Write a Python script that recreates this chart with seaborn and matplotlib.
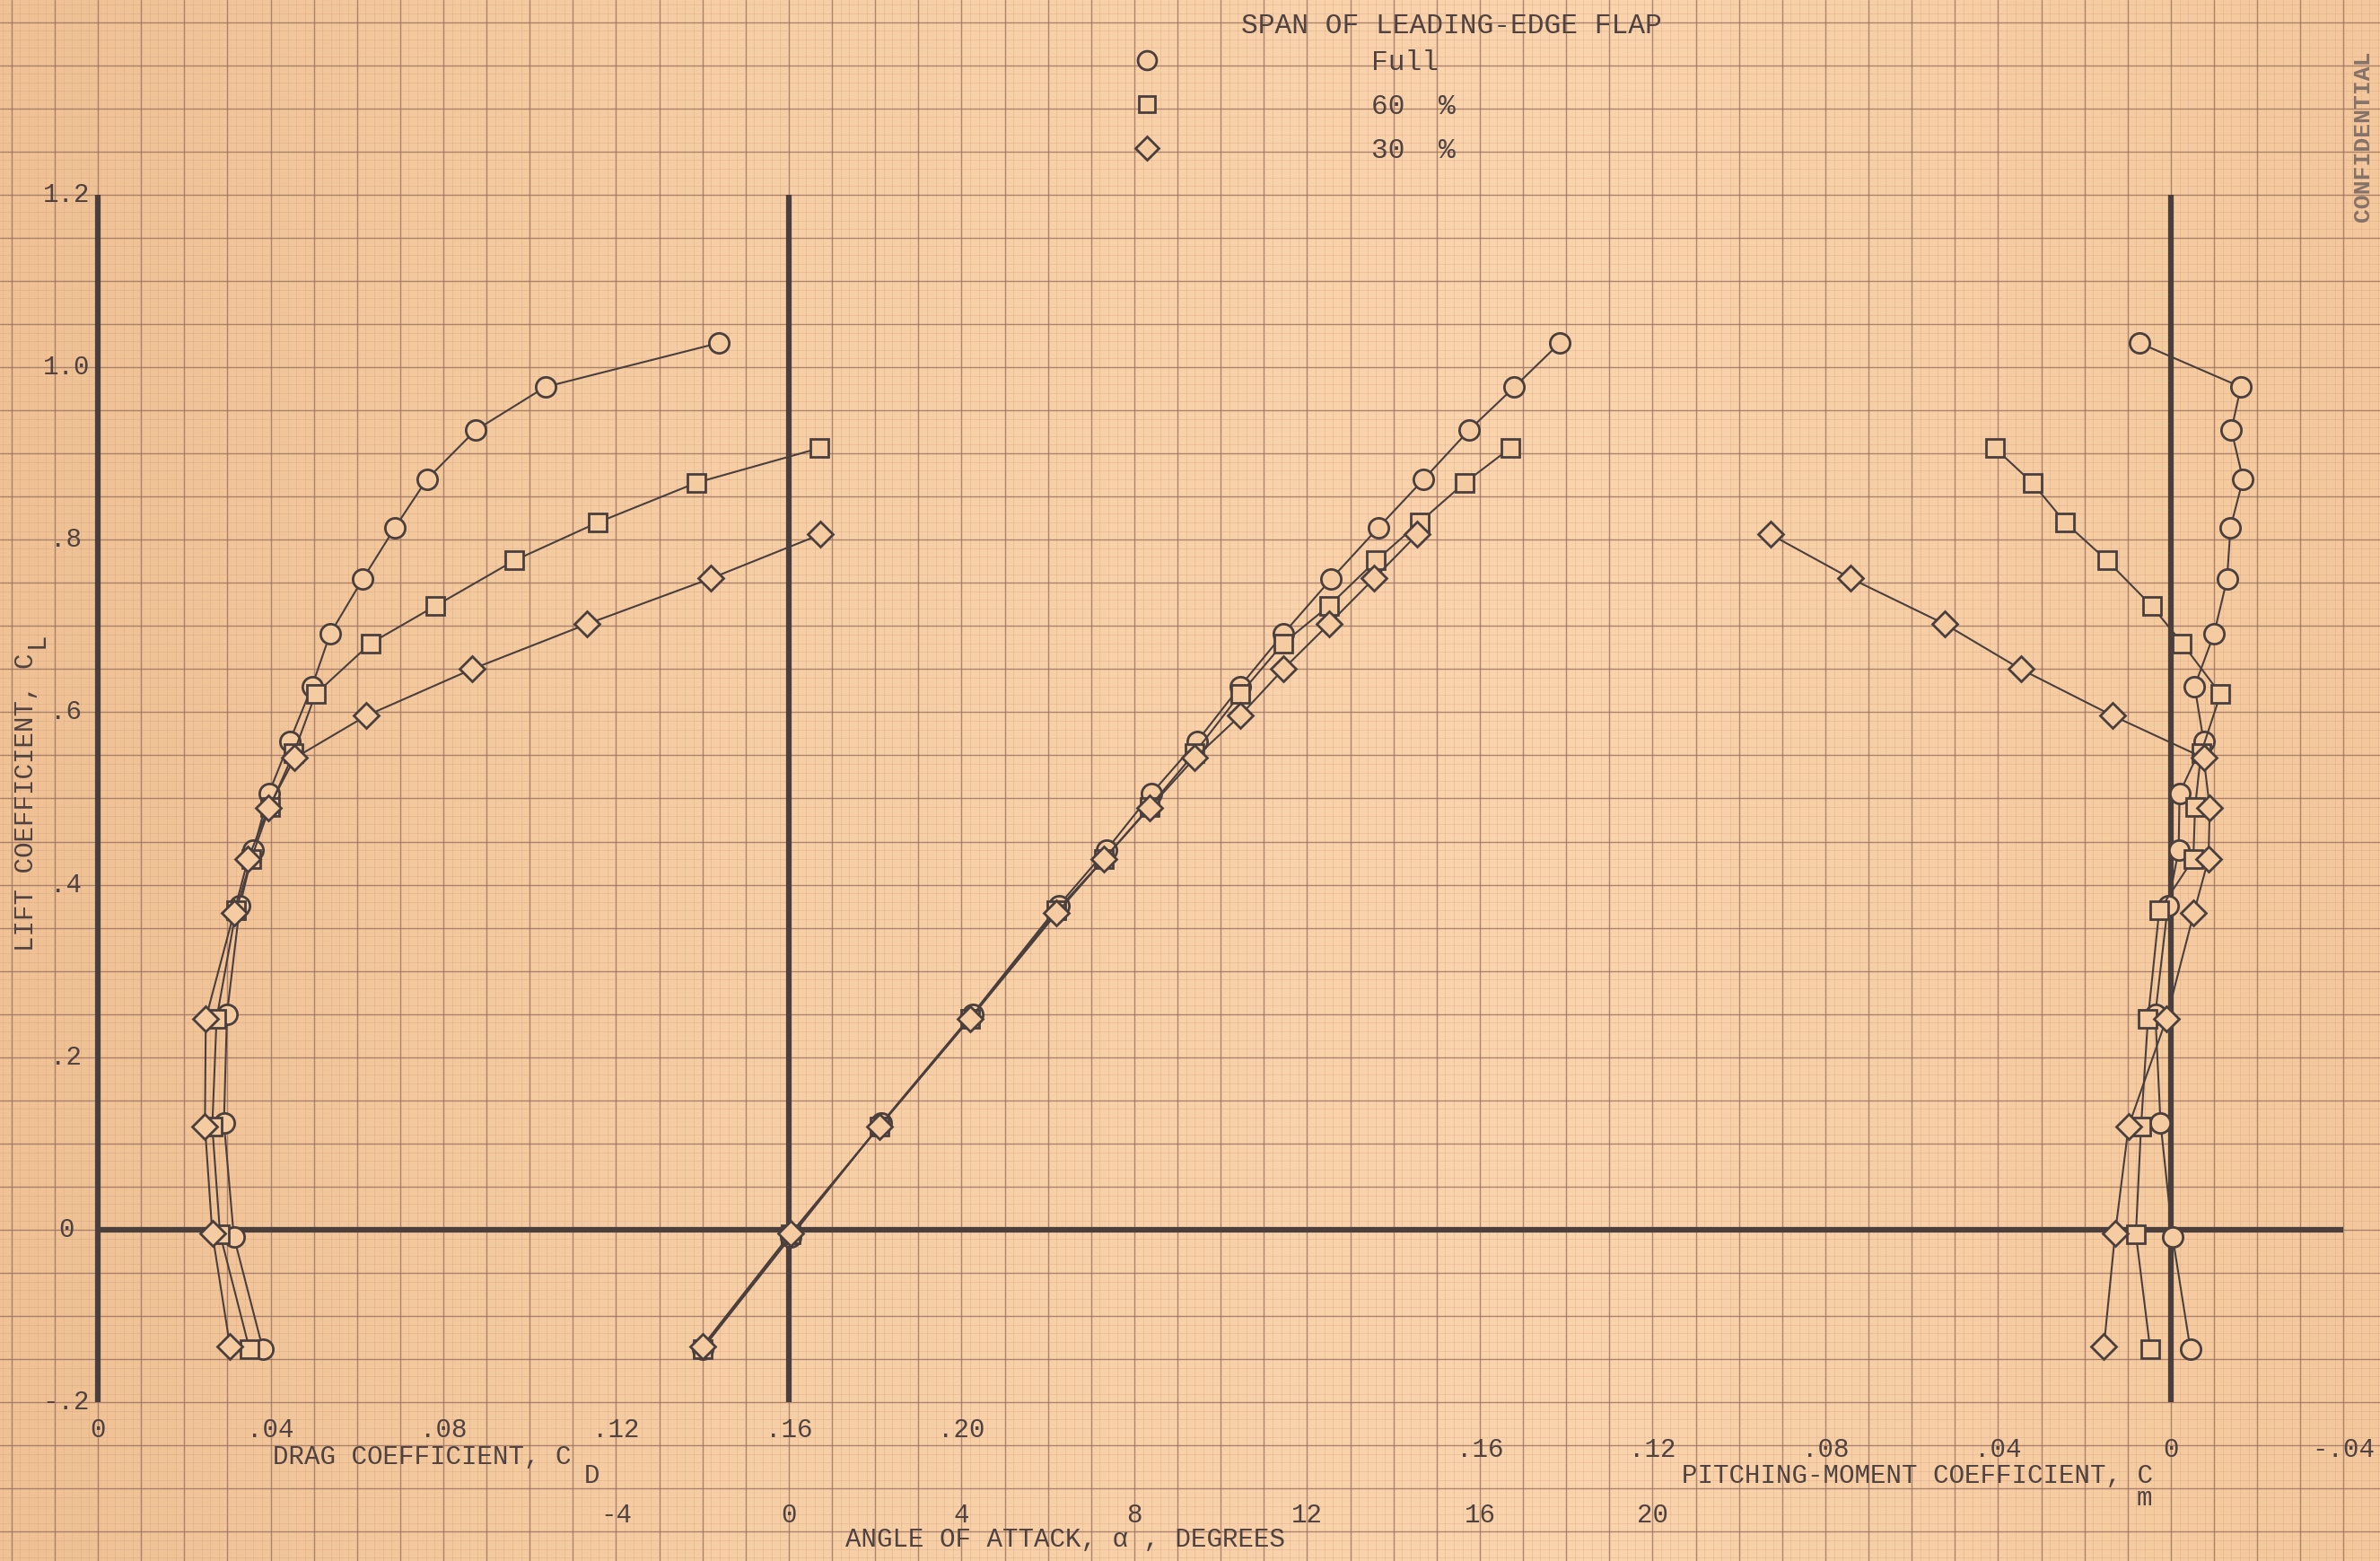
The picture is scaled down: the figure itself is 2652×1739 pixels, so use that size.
import numpy as np
import seaborn as sns
import matplotlib.pyplot as plt
from matplotlib.lines import Line2D
from matplotlib.colors import LinearSegmentedColormap

# lift coefficient of each test point (shared by the three plots)
cl_full = [-0.138, -0.008, 0.124, 0.250, 0.376, 0.440, 0.506, 0.566, 0.630, 0.691, 0.754, 0.814, 0.870, 0.927, 0.977, 1.028]
cl_60 = [-0.138, -0.005, 0.120, 0.245, 0.370, 0.430, 0.490, 0.553, 0.621, 0.680, 0.723, 0.776, 0.820, 0.866, 0.906]
cl_30 = [-0.135, -0.004, 0.120, 0.245, 0.367, 0.430, 0.489, 0.547, 0.596, 0.650, 0.702, 0.755, 0.806]

# drag coefficient
cd_full = [0.0382, 0.0315, 0.0292, 0.0299, 0.0329, 0.0360, 0.0396, 0.0444, 0.0496, 0.0538, 0.0613, 0.0688, 0.0762, 0.0875, 0.1036, 0.1438]
cd_60 = [0.0351, 0.0283, 0.0265, 0.0275, 0.0320, 0.0355, 0.0398, 0.0454, 0.0504, 0.0632, 0.0781, 0.0965, 0.1158, 0.1386, 0.1670]
cd_30 = [0.0306, 0.0265, 0.0248, 0.0250, 0.0315, 0.0348, 0.0395, 0.0456, 0.0622, 0.0867, 0.1132, 0.1419, 0.1673]

# angle of attack, degrees
alpha_full = [-2.0, 0.05, 2.15, 4.25, 6.25, 7.35, 8.4, 9.45, 10.45, 11.45, 12.55, 13.65, 14.7, 15.75, 16.8, 17.85]
alpha_60 = [-2.0, 0.05, 2.1, 4.2, 6.2, 7.3, 8.35, 9.4, 10.45, 11.45, 12.5, 13.6, 14.6, 15.65, 16.7]
alpha_30 = [-2.0, 0.05, 2.1, 4.2, 6.2, 7.3, 8.35, 9.4, 10.45, 11.45, 12.5, 13.55, 14.55]

# pitching-moment coefficient
cm_full = [-0.0045, -0.0004, 0.0024, 0.0036, 0.0007, -0.0018, -0.0020, -0.0076, -0.0055, -0.0100, -0.0130, -0.0138, -0.0167, -0.0140, -0.0162, 0.0073]
cm_60 = [0.0048, 0.0081, 0.0069, 0.0053, 0.0027, -0.0052, -0.0056, -0.0070, -0.0115, -0.0026, 0.0044, 0.0148, 0.0245, 0.0321, 0.0407]
cm_30 = [0.0155, 0.0129, 0.0098, 0.0010, -0.0053, -0.0087, -0.0090, -0.0076, 0.0135, 0.0348, 0.0523, 0.0741, 0.0927]

span_labels = ['Full', '60  %', '30  %']
markers = ['o', 's', 'D']
marker_sizes = [16, 14, 14]

# tick labels
cl_ticks = [-0.2, 0, 0.2, 0.4, 0.6, 0.8, 1.0, 1.2]
cl_ticklabels = ['-.2', '0', '.2', '.4', '.6', '.8', '1.0', '1.2']
cd_ticks = [0, 0.04, 0.08, 0.12, 0.16, 0.20]
cd_ticklabels = ['0', '.04', '.08', '.12', '.16', '.20']
alpha_ticks = [-4, 0, 4, 8, 12, 16, 20]
alpha_ticklabels = ['-4', '0', '4', '8', '12', '16', '20']
cm_ticks = [0.16, 0.12, 0.08, 0.04, 0, -0.04]
cm_ticklabels = ['.16', '.12', '.08', '.04', '0', '-.04']

# colours
paper = '#f5cba1'
ink = '#4a3f3d'
type_ink = '#4f4240'

sns.set_theme(style='white', rc={'axes.facecolor': paper, 'figure.facecolor': paper})
plt.rcParams['font.family'] = ['Liberation Mono', 'DejaVu Sans Mono', 'DejaVu Sans']

fig = plt.figure(figsize=(26.52, 17.39), dpi=100)
ax = fig.add_axes([0, 0, 1, 1])

# the three plots share one sheet of graph paper:
# drag axis is the base, alpha = 0 sits on CD = .16, Cm = 0 sits on CD = .48
cd_lim = (-0.02265, 0.52842)
cl_lim = (-0.38398, 1.42560)
alpha_lim = ((cd_lim[0] - 0.16) * 100, (cd_lim[1] - 0.16) * 100)
cm_lim = (0.48 - cd_lim[0], 0.48 - cd_lim[1])

ax_a = ax.twiny()
ax_m = ax.twiny()

# paper tone, a little lighter in the middle of the sheet
tone = LinearSegmentedColormap.from_list('paper', ['#efc194', '#f7cfa6', '#fad4ad', '#f4c89c'])
ax.imshow(np.linspace(0, 1, 256)[None, :], cmap=tone, aspect='auto',
          extent=(cd_lim[0], cd_lim[1], cl_lim[0], cl_lim[1]), zorder=0)

# graph paper
ax.set_xticks(np.arange(-0.02, 0.53, 0.01))
ax.set_xticks(np.arange(-0.022, 0.53, 0.002), minor=True)
ax.set_yticks(np.arange(-0.35, 1.45, 0.05))
ax.set_yticks(np.arange(-0.38, 1.43, 0.01), minor=True)
ax.grid(which='major', color='#9a705e', lw=1.0, alpha=0.8)
ax.grid(which='minor', color='#cf9a7a', lw=0.5, alpha=0.4)
ax.tick_params(which='both', length=0, labelbottom=False, labelleft=False)
for s in ax.spines.values():
    s.set_visible(False)
ax.set_axisbelow(True)

# heavy axis lines
heavy = dict(color=ink, lw=4.5, zorder=2, capstyle='butt')
ax.vlines(0, -0.2, 1.2, **heavy)
ax.vlines(0.16, -0.2, 1.2, **heavy)
ax.vlines(0.48, -0.2, 1.2, **heavy)
ax.hlines(0, 0, 0.52, **heavy)

line_kws = dict(color=ink, linewidth=1.5, markerfacecolor=paper,
                markeredgecolor=ink, markeredgewidth=2.0, zorder=4)

drag = [cd_full, cd_60, cd_30]
lift = [alpha_full, alpha_60, alpha_30]
moment = [cm_full, cm_60, cm_30]
cls = [cl_full, cl_60, cl_30]

for i in range(3):
    sns.lineplot(x=drag[i], y=cls[i], ax=ax, sort=False, estimator=None,
                 marker=markers[i], markersize=marker_sizes[i], **line_kws)
    sns.lineplot(x=lift[i], y=cls[i], ax=ax_a, sort=False, estimator=None,
                 marker=markers[i], markersize=marker_sizes[i], **line_kws)
    sns.lineplot(x=moment[i], y=cls[i], ax=ax_m, sort=False, estimator=None,
                 marker=markers[i], markersize=marker_sizes[i], **line_kws)

ax.set_xlim(cd_lim)
ax.set_ylim(cl_lim)
ax_a.set_xlim(alpha_lim)
ax_m.set_xlim(cm_lim)
for a in (ax_a, ax_m):
    a.set_ylim(cl_lim)
    a.set_axis_off()
ax.set_xlabel('')
ax.set_ylabel('')

tf = dict(color=type_ink, fontsize=21, ha='center', va='center')

# tick labels typed on the sheet
for v, s in zip(cl_ticks, cl_ticklabels):
    ax.text(-0.0073, v, s, **tf)
for v, s in zip(cd_ticks, cd_ticklabels):
    ax.text(v, -0.232, s, **tf)
for v, s in zip(alpha_ticks, alpha_ticklabels):
    ax_a.text(v, -0.331, s, **tf)
for v, s in zip(cm_ticks, cm_ticklabels):
    ax_m.text(v, -0.255, s, **tf)

# axis titles
ax.text(-0.0166, 0.496, 'LIFT COEFFICIENT, C', rotation=90, **tf)
ax.text(-0.0142, 0.683, 'L', rotation=90, **tf)
ax.text(0.0405, -0.263, 'DRAG COEFFICIENT, C', **{**tf, 'ha': 'left'})
ax.text(0.1125, -0.285, 'D', **{**tf, 'ha': 'left'})
ax_a.text(6.4, -0.359, 'ANGLE OF ATTACK, α , DEGREES', **tf)
ax_m.text(0.1132, -0.285, 'PITCHING-MOMENT COEFFICIENT, C', **{**tf, 'ha': 'left'})
ax_m.text(0.0080, -0.311, 'm', **{**tf, 'ha': 'left'})

# key
fig.text(1617 / 2652, 1 - 29 / 1739, 'SPAN OF LEADING-EDGE FLAP', color=type_ink,
         fontsize=22.5, ha='center', va='center')
handles = [Line2D([], [], ls='none', marker=m, markersize=ms, markerfacecolor=paper,
                  markeredgecolor=ink, markeredgewidth=2.0)
           for m, ms in zip(markers, [15, 13.5, 13.5])]
leg = fig.legend(handles, span_labels, loc='upper left',
                 bbox_to_anchor=(1262 / 2652, 1 - 55 / 1739),
                 frameon=False, borderpad=0, borderaxespad=0, handlelength=1.0,
                 handletextpad=7.5, labelspacing=0.6,
                 prop={'family': 'Liberation Mono', 'size': 22.5})
for t in leg.get_texts():
    t.set_color(type_ink)

fig.text(2633 / 2652, 1 - 152 / 1739, 'CONFIDENTIAL', rotation=90, color='#857268',
         fontsize=19, fontweight='bold', ha='center', va='center')

fig.savefig('out.png', dpi=100, facecolor=paper)
